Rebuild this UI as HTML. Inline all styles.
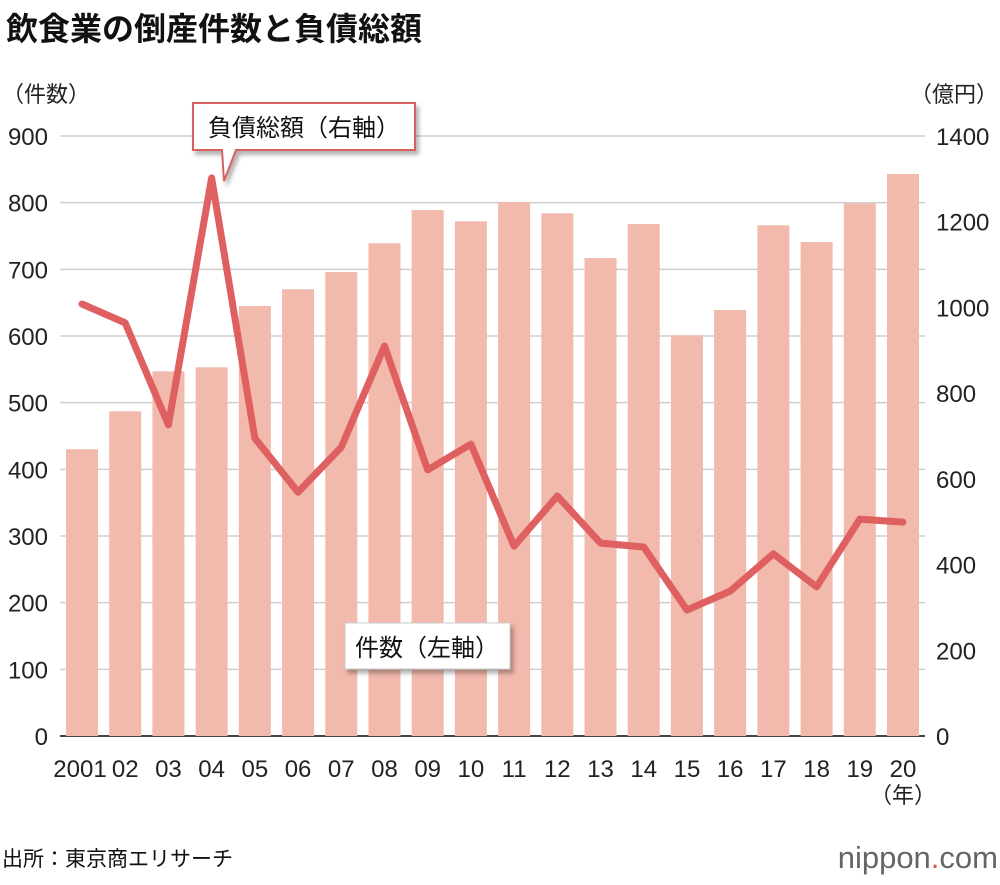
<!DOCTYPE html>
<html><head><meta charset="utf-8"><style>
body{margin:0;background:#fff;font-family:"Liberation Sans","Noto Sans CJK JP",sans-serif;}
svg text{font-family:"Liberation Sans","Noto Sans CJK JP",sans-serif;}
</style></head><body>
<svg id="c" width="1000" height="880" xmlns="http://www.w3.org/2000/svg">
<defs><filter id="sh" x="-20%" y="-20%" width="140%" height="160%"><feDropShadow dx="3" dy="4" stdDeviation="2" flood-color="#000" flood-opacity="0.3"/></filter></defs>
<text x="6" y="40" font-size="32" font-weight="bold" fill="#111">飲食業の倒産件数と負債総額</text>
<text x="2" y="102" font-size="22" fill="#222">（件数）</text>
<text x="998" y="102" font-size="22" fill="#222" text-anchor="end">（億円）</text>
<g id="grid"></g><g id="bars"></g><g id="line"></g><g id="axes"></g>
<g filter="url(#sh)">
<path d="M193,103 H415 V150 H236 L224,181 L222,150 H193 Z" fill="#fff" stroke="#d9605f" stroke-width="2"/>
</g>
<text x="304" y="136" font-size="24" text-anchor="middle" fill="#111">負債総額（右軸）</text>
<rect x="345" y="623" width="165" height="46" fill="#fff" stroke="#ccc" filter="url(#sh)"/>
<text x="427" y="656" font-size="24" text-anchor="middle" fill="#111">件数（左軸）</text>
<text x="903" y="803" font-size="22" text-anchor="middle" fill="#222">（年）</text>
<text x="2" y="866" font-size="21" fill="#111">出所：東京商エリサーチ</text>
<text x="998" y="868" font-size="31" text-anchor="end" fill="#666">nippon<tspan fill="#e05050">.</tspan>com</text>
</svg>
<script>
const categories=["2001","02","03","04","05","06","07","08","09","10","11","12","13","14","15","16","17","18","19","20"];
const counts=[430,487,547,553,645,670,696,739,789,772,801,784,717,768,601,639,766,741,799,843];
const debts=[1008,964,726,1302,695,569,674,910,621,681,443,560,450,441,294,338,425,348,506,499];
const leftTicks=[0,100,200,300,400,500,600,700,800,900];
const rightTicks=[0,200,400,600,800,1000,1200,1400];
const NS="http://www.w3.org/2000/svg";
const y0=736,y1=136,x0=82,step=(903-82)/19;
const yL=v=>y0-(v/900)*(y0-y1);
const yR=v=>y0-(v/1400)*(y0-y1);
const xC=i=>x0+i*step;
function mk(t,a,p){const e=document.createElementNS(NS,t);for(const k in a)e.setAttribute(k,a[k]);document.getElementById(p).appendChild(e);return e;}
leftTicks.forEach(v=>{
 const l=mk('line',{x1:60,x2:925,y1:yL(v),y2:yL(v),stroke:v?'#cfcfcf':'#444','stroke-width':v?1.5:2},'grid');
 
 
 const t=mk('text',{x:48,y:yL(v)+9,'font-size':24,'text-anchor':'end',fill:'#222'},'axes');t.textContent=v;
 
 
});
rightTicks.forEach(v=>{
 const t=mk('text',{x:936,y:yR(v)+9,'font-size':24,fill:'#222'},'axes');t.textContent=v;
 
 
});
counts.forEach((v,i)=>{
 const r=mk('rect',{x:xC(i)-16,y:yL(v),width:32,height:y0-yL(v),fill:'#f2b9ad'},'bars');
 
 
 const t=mk('text',{x:xC(i)+(i===0?-2:0),y:777,'font-size':24,'text-anchor':'middle',fill:'#222'},'axes');t.textContent=categories[i];
 
 
});
const pl=mk('polyline',{points:debts.map((v,i)=>xC(i)+','+yR(v)).join(' '),fill:'none',stroke:'#df6060','stroke-width':7,'stroke-linejoin':'round','stroke-linecap':'round'},'line');


</script>
</body></html>
